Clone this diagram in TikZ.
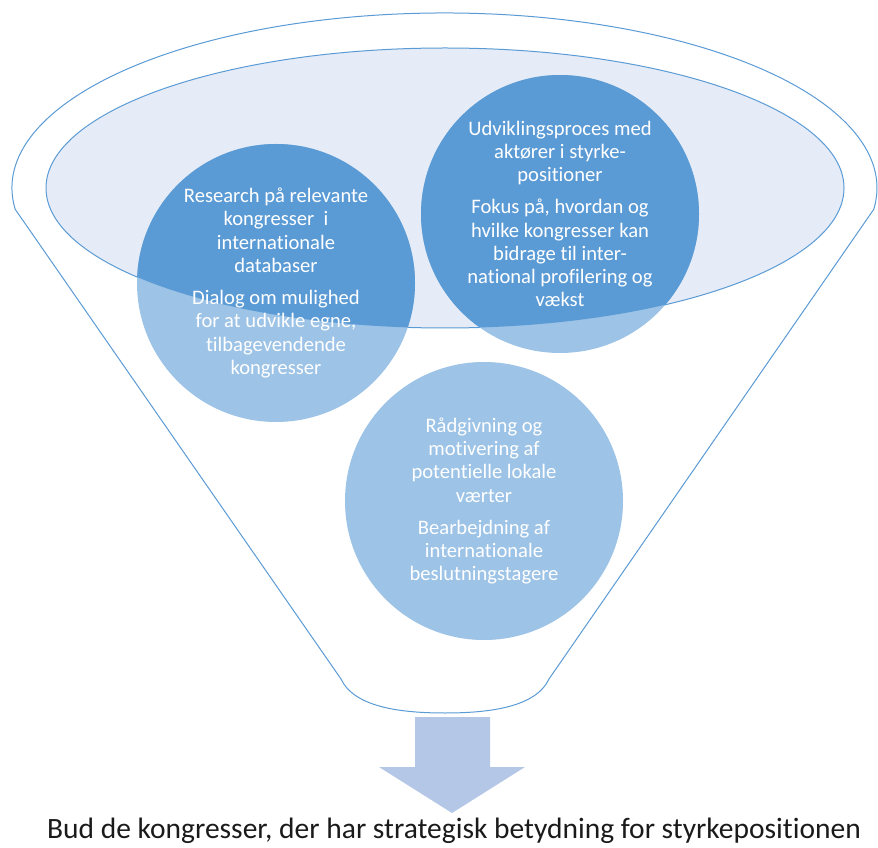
\documentclass[tikz,border=0pt]{standalone}
\usepackage{fontspec}
\setmainfont[RawFeature=-liga]{Carlito}
\definecolor{dkblue}{HTML}{5B9BD5}
\definecolor{ltblue}{HTML}{9DC3E6}
\definecolor{elfill}{HTML}{E5ECF7}
\definecolor{arrowc}{HTML}{B4C7E7}
\definecolor{txtc}{HTML}{1A1A1A}
\tikzset{
  outline/.style={draw=dkblue, line width=1pt},
  circtext/.style={text=white, align=center, inner sep=0pt, font=\fontsize{20.6}{23.3}\selectfont},
}
\begin{document}
\begin{tikzpicture}[x=1pt,y=1pt]
\useasboundingbox (0,0) rectangle (878,847);
% funnel outline
\draw[outline, fill=white] (15.2,637.7) arc[start angle=187, end angle=-7, x radius=432.5pt, y radius=175pt]
  -- (549,168) .. controls (536,140) and (490,134) .. (445,134)
  .. controls (400,134) and (354,140) .. (341,168) -- cycle;
% inner ellipse
\draw[outline, fill=elfill] (445,659) ellipse[x radius=399pt, y radius=140pt];
% circles (light)
\foreach \c in {(276,564),(560,633),(484,346)}
  \fill[ltblue] \c circle[radius=139pt];
% dark parts inside ellipse
\begin{scope}
  \clip (445,659) ellipse[x radius=399pt, y radius=140pt];
  \fill[dkblue] (276,564) circle[radius=139pt];
  \fill[dkblue] (560,633) circle[radius=139pt];
\end{scope}
% texts
\node[circtext] (left) at (276,564) {Research på relevante\\kongresser\ \ i\\internationale\\databaser\\[8.7pt]Dialog om mulighed\\for at udvikle egne,\\tilbagevendende\\kongresser};
\node[circtext] (right) at (560,633) {Udviklingsproces med\\aktører i styrke-\\positioner\\[8.7pt]Fokus på, hvordan og\\hvilke kongresser kan\\bidrage til inter-\\national profilering og\\vækst};
\node[circtext] (bottom) at (484,346) {Rådgivning og\\motivering af\\potentielle lokale\\værter\\[8.7pt]Bearbejdning af\\internationale\\beslutningstagere};
% arrow
\fill[arrowc] (415,130) -- (490,130) -- (490,80) -- (525,80) -- (452,34) -- (379,80) -- (415,80) -- cycle;
% bottom caption
\node[text=txtc, inner sep=0pt, font=\fontsize{29.5}{34}\selectfont] (caption) at (454,16) {Bud de kongresser, der har strategisk betydning for styrkepositionen};
\end{tikzpicture}
\end{document}
